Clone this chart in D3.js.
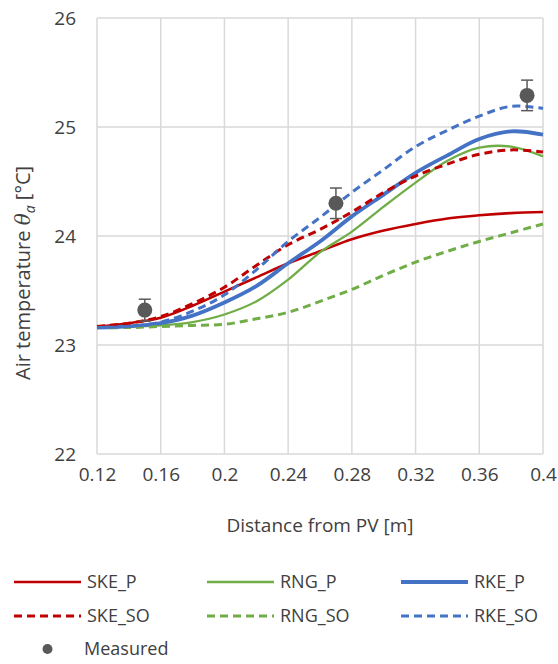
<!DOCTYPE html>
<html>
<head>
<meta charset="utf-8">
<script src="https://cdn.jsdelivr.net/npm/d3@7"></script>
<style>
  html, body { margin: 0; padding: 0; background: #fff; }
  svg { display: block; font-family: "Open Sans", "Noto Sans", sans-serif; }
</style>
</head>
<body>
<svg id="chart" width="558" height="664"></svg>
<script>
// Distance from the PV panel [m] at which each simulated profile is sampled
const distance = [0.12, 0.14, 0.16, 0.18, 0.20, 0.22, 0.24, 0.26, 0.28, 0.30, 0.32, 0.34, 0.36, 0.38, 0.40];

// Simulated air temperature [°C] per turbulence model
const skeP  = [23.17, 23.20, 23.25, 23.36, 23.49, 23.62, 23.75, 23.86, 23.97, 24.05, 24.11, 24.16, 24.19, 24.21, 24.22];
const skeSO = [23.17, 23.20, 23.26, 23.38, 23.53, 23.73, 23.92, 24.06, 24.22, 24.40, 24.55, 24.66, 24.75, 24.79, 24.77];
const rngP  = [23.16, 23.17, 23.18, 23.21, 23.28, 23.40, 23.60, 23.85, 24.04, 24.27, 24.49, 24.69, 24.81, 24.82, 24.73];
const rngSO = [23.16, 23.16, 23.17, 23.18, 23.19, 23.24, 23.30, 23.40, 23.51, 23.64, 23.76, 23.86, 23.95, 24.03, 24.11];
const rkeP  = [23.16, 23.17, 23.20, 23.27, 23.39, 23.54, 23.75, 23.95, 24.18, 24.38, 24.58, 24.74, 24.89, 24.96, 24.93];
const rkeSO = [23.16, 23.17, 23.21, 23.31, 23.46, 23.69, 23.95, 24.17, 24.40, 24.61, 24.82, 24.97, 25.10, 25.19, 25.17];

// Measurements with their uncertainty
const measuredX   = [0.15, 0.27, 0.39];
const measuredY   = [23.32, 24.30, 25.29];
const measuredErr = [0.10, 0.14, 0.14];

// Axis ticks
const xTicks = [0.12, 0.16, 0.2, 0.24, 0.28, 0.32, 0.36, 0.4];
const yTicks = [22, 23, 24, 25, 26];

const seriesNames = ["SKE_P", "RNG_P", "RKE_P", "SKE_SO", "RNG_SO", "RKE_SO"];
const seriesValues = [skeP, rngP, rkeP, skeSO, rngSO, rkeSO];

const RED = "#C00000", GREEN = "#70AD47", BLUE = "#4472C4", GREY = "#595959";
const styles = {
  SKE_P:  { color: RED,   width: 2.6, dash: null },
  RNG_P:  { color: GREEN, width: 2.3, dash: null },
  RKE_P:  { color: BLUE,  width: 3.8, dash: null },
  SKE_SO: { color: RED,   width: 3,   dash: "8,5" },
  RNG_SO: { color: GREEN, width: 3,   dash: "8,5" },
  RKE_SO: { color: BLUE,  width: 3,   dash: "8,5" }
};

const svg = d3.select("#chart");
const plot = { left: 97, right: 543, top: 18, bottom: 454 };

const x = d3.scaleLinear().domain([0.12, 0.4]).range([plot.left, plot.right]);
const y = d3.scaleLinear().domain([22, 26]).range([plot.bottom, plot.top]);

// Grid
const grid = svg.append("g").attr("stroke", "#D9D9D9").attr("stroke-width", 1.5);
grid.selectAll("line.v").data(xTicks).join("line")
  .attr("x1", d => x(d)).attr("x2", d => x(d))
  .attr("y1", plot.top).attr("y2", plot.bottom);
grid.selectAll("line.h").data(yTicks).join("line")
  .attr("x1", plot.left).attr("x2", plot.right)
  .attr("y1", d => y(d)).attr("y2", d => y(d));

// Axes (labels only, grid lines serve as ticks)
const xAxis = d3.axisBottom(x).tickValues(xTicks).tickSize(0).tickPadding(14)
  .tickFormat(d => String(+d.toFixed(2)));
svg.append("g").attr("transform", `translate(0,${plot.bottom})`).call(xAxis)
  .call(g => g.select(".domain").remove())
  .call(g => g.selectAll("text").attr("font-size", 19).attr("fill", "#404040")
    .attr("font-family", "Open Sans, sans-serif"));

const yAxis = d3.axisLeft(y).tickValues(yTicks).tickSize(0).tickPadding(21)
  .tickFormat(d3.format("d"));
svg.append("g").attr("transform", `translate(${plot.left},0)`).call(yAxis)
  .call(g => g.select(".domain").remove())
  .call(g => g.selectAll("text").attr("font-size", 19).attr("fill", "#404040")
    .attr("font-family", "Open Sans, sans-serif"));

// Axis titles
svg.append("text")
  .attr("x", (plot.left + plot.right) / 2).attr("y", 532)
  .attr("text-anchor", "middle").attr("font-size", 19).attr("fill", "#404040")
  .text("Distance from PV [m]");

const yTitle = svg.append("text")
  .attr("transform", "translate(30,380) rotate(-90)")
  .attr("text-anchor", "start").attr("font-size", 20).attr("fill", "#404040");
yTitle.append("tspan").text("Air temperature ");
yTitle.append("tspan").attr("font-style", "italic").attr("font-family", "DejaVu Serif, serif").text("θ");
yTitle.append("tspan").attr("font-style", "italic").attr("font-size", 14).attr("dy", 5).text("a");
yTitle.append("tspan").attr("dy", -5).text(" [°C]");

// Simulated profiles
const line = d3.line()
  .x((d, i) => x(distance[i]))
  .y(d => y(d))
  .curve(d3.curveCatmullRom.alpha(0.5));

svg.append("g").selectAll("path").data(seriesNames).join("path")
  .attr("d", (name, i) => line(seriesValues[i]))
  .attr("fill", "none")
  .attr("stroke", name => styles[name].color)
  .attr("stroke-width", name => styles[name].width)
  .attr("stroke-dasharray", name => styles[name].dash)
  .attr("stroke-linejoin", "round");

// Measured points with error bars
const meas = svg.append("g").selectAll("g").data(measuredX).join("g");
meas.append("line")
  .attr("x1", d => x(d)).attr("x2", d => x(d))
  .attr("y1", (d, i) => y(measuredY[i] + measuredErr[i]))
  .attr("y2", (d, i) => y(measuredY[i] - measuredErr[i]))
  .attr("stroke", GREY).attr("stroke-width", 1.5);
[1, -1].forEach(s => {
  meas.append("line")
    .attr("x1", d => x(d) - 6).attr("x2", d => x(d) + 6)
    .attr("y1", (d, i) => y(measuredY[i] + s * measuredErr[i]))
    .attr("y2", (d, i) => y(measuredY[i] + s * measuredErr[i]))
    .attr("stroke", GREY).attr("stroke-width", 1.5);
});
meas.append("circle")
  .attr("cx", d => x(d)).attr("cy", (d, i) => y(measuredY[i]))
  .attr("r", 7.5).attr("fill", GREY);

// Legend
const legendCols = [14, 207, 401];
const legendRows = [582, 616, 649];
const legend = svg.append("g");
seriesNames.forEach((name, i) => {
  const cx = legendCols[i % 3], cy = legendRows[Math.floor(i / 3)];
  const s = styles[name];
  legend.append("line")
    .attr("x1", cx).attr("x2", cx + 67).attr("y1", cy).attr("y2", cy)
    .attr("stroke", s.color).attr("stroke-width", s.width)
    .attr("stroke-dasharray", s.dash);
  legend.append("text")
    .attr("x", cx + 73).attr("y", cy).attr("dy", "0.35em")
    .attr("font-size", 18).attr("fill", "#404040").text(name);
});
legend.append("circle").attr("cx", 47.5).attr("cy", legendRows[2]).attr("r", 5).attr("fill", GREY);
legend.append("text").attr("x", 84).attr("y", legendRows[2]).attr("dy", "0.35em")
  .attr("font-size", 18).attr("fill", "#404040").text("Measured");
</script>
</body>
</html>
